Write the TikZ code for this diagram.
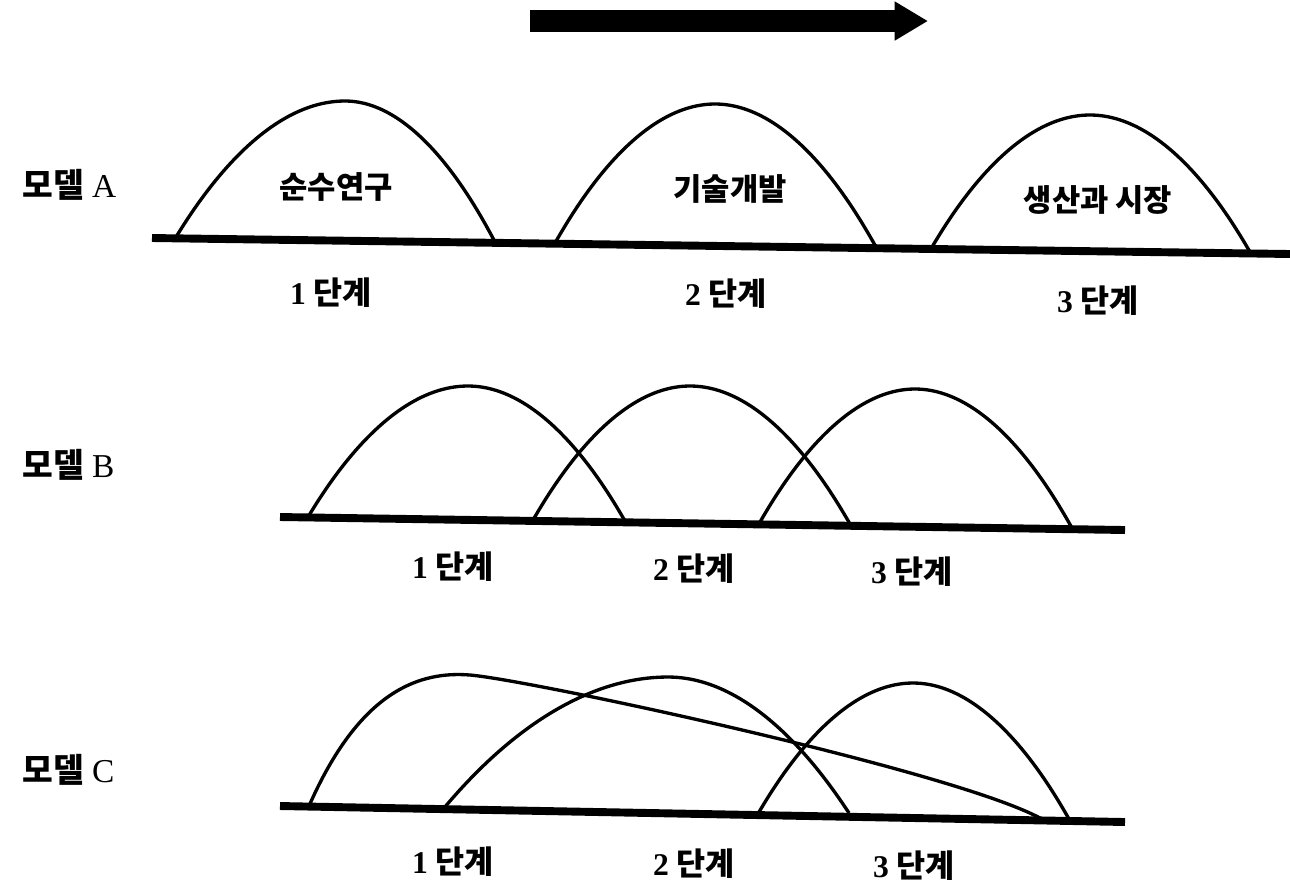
\documentclass[tikz,border=0pt]{standalone}
\usepackage{fontspec}
\setmainfont{Liberation Serif}
\newfontfamily\kr{Noto Sans CJK KR}
\usetikzlibrary{arrows.meta}
\definecolor{ink}{RGB}{0,0,0}
\tikzset{
  ground/.style={draw=ink, line width=4.5pt},
  arch/.style={draw=ink, line width=1.9pt},
  mlabel/.style={anchor=west, font=\fontsize{19}{22}\selectfont, text=ink, inner sep=0pt},
  slabel/.style={font=\bfseries\fontsize{18}{21}\selectfont, text=ink, inner sep=0pt},
  tlabel/.style={font=\kr\bfseries\fontsize{17.5}{20}\selectfont, text=ink, inner sep=0pt},
  bigarrow/.style={-{Triangle[length=19pt,width=21pt]}, line width=12pt, draw=ink},
}

\begin{document}
\begin{tikzpicture}[x=0.02cm, y=-0.02cm]
\useasboundingbox (0,0) rectangle (1290,894);

% direction arrow
\coordinate (arrS) at (530,21);
\coordinate (arrE) at (928,21);
\draw[bigarrow] (arrS) -- (arrE);

% model A
\node[mlabel] (mA) at (22,185) {{\kr\bfseries 모델} A};
\coordinate (gA1) at (152,238);
\coordinate (gA2) at (1290,254);
\draw[ground] (gA1) -- (gA2);
\coordinate (aA1) at (176,237);  \coordinate (pA1) at (345,101);  \coordinate (bA1) at (495,242);
\coordinate (aA2) at (555,243);  \coordinate (pA2) at (715,104);  \coordinate (bA2) at (876,247);
\coordinate (aA3) at (932,247);  \coordinate (pA3) at (1090,115); \coordinate (bA3) at (1250,252);
\draw[arch] (aA1) parabola bend (pA1) (bA1);
\draw[arch] (aA2) parabola bend (pA2) (bA2);
\draw[arch] (aA3) parabola bend (pA3) (bA3);
\node[tlabel] (tA1) at (336,187) {순수연구};
\node[tlabel] (tA2) at (730,189) {기술개발};
\node[tlabel] (tA3) at (1098,200) {생산과 시장};
\node[slabel] (sA1) at (331,293) {1 {\kr 단계}};
\node[slabel] (sA2) at (726,294) {2 {\kr 단계}};
\node[slabel] (sA3) at (1098,301) {3 {\kr 단계}};

% model B
\node[mlabel] (mB) at (22,465) {{\kr\bfseries 모델} B};
\coordinate (gB1) at (280,517);
\coordinate (gB2) at (1125,530);
\draw[ground] (gB1) -- (gB2);
\coordinate (aB1) at (308,517);  \coordinate (pB1) at (468,386);  \coordinate (bB1) at (625,521);
\coordinate (aB2) at (533,520);  \coordinate (pB2) at (690,386);  \coordinate (bB2) at (850,524);
\coordinate (aB3) at (760,522);  \coordinate (pB3) at (915,389);  \coordinate (bB3) at (1072,528);
\draw[arch] (aB1) parabola bend (pB1) (bB1);
\draw[arch] (aB2) parabola bend (pB2) (bB2);
\draw[arch] (aB3) parabola bend (pB3) (bB3);
\node[slabel] (sB1) at (453,567) {1 {\kr 단계}};
\node[slabel] (sB2) at (694,569) {2 {\kr 단계}};
\node[slabel] (sB3) at (912,572) {3 {\kr 단계}};

% model C
\node[mlabel] (mC) at (22,770) {{\kr\bfseries 모델} C};
\coordinate (gC1) at (280,806);
\coordinate (gC2) at (1125,822);
\draw[ground] (gC1) -- (gC2);
\coordinate (aC1) at (309,806);  \coordinate (pC1) at (470,675);  \coordinate (bC1) at (1040,818);
\coordinate (aC2) at (444,808);  \coordinate (pC2) at (668,677);  \coordinate (bC2) at (849,813);
\coordinate (aC3) at (759,812);  \coordinate (pC3) at (913,683);  \coordinate (bC3) at (1069,819);
\draw[arch] (aC1) .. controls (360,690) and (420,671) .. (pC1)
  .. controls (530,680) and (950,770) .. (bC1);
\draw[arch] (aC2) parabola bend (pC2) (bC2);
\draw[arch] (aC3) parabola bend (pC3) (bC3);
\node[slabel] (sC1) at (453,862) {1 {\kr 단계}};
\node[slabel] (sC2) at (694,864) {2 {\kr 단계}};
\node[slabel] (sC3) at (914,866) {3 {\kr 단계}};
\end{tikzpicture}
\end{document}
